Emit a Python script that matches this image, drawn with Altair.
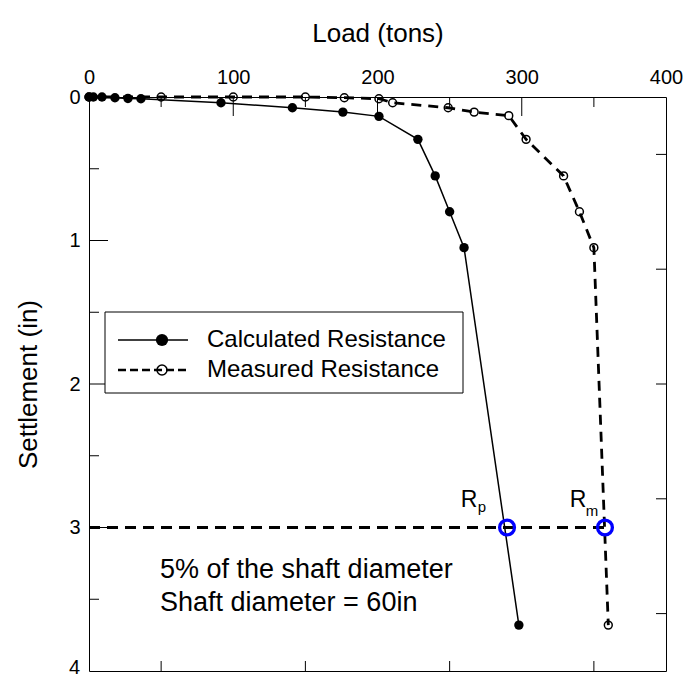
import altair as alt
import pandas as pd

# ---------------- data ----------------
calc_load = [0, 3, 9, 18, 27, 36, 91.5, 141, 176, 201, 228, 240, 250, 260, 298]
calc_settle = [0, 0, 0, 0.005, 0.01, 0.012, 0.04, 0.075, 0.105, 0.135, 0.295, 0.55, 0.80, 1.05, 3.68]

meas_load = [0, 50, 100, 150, 177, 201, 210.5, 249, 267, 291, 303, 329, 340, 350, 360]
meas_settle = [0, 0, 0, 0, 0.005, 0.012, 0.04, 0.075, 0.105, 0.13, 0.295, 0.55, 0.80, 1.05, 3.68]

criterion_settle = 3.0          # 5% of 60 in
rp_load = 289.8
rm_load = 357.7

x_labels = [0, 100, 200, 300, 400]
y_labels = [0, 1, 2, 3]
y_last_label = 4
top_major = [100, 200, 300]
top_minor = [50, 150, 250, 350]
bottom_ticks = [50, 150, 250, 350]
left_major = [1, 2, 3]
left_minor = [0.5, 1.5, 2.5, 3.5]
right_ticks = [0.4, 1.2, 2.0, 2.8, 3.6]

legend_labels = ["Calculated Resistance", "Measured Resistance"]
note_lines = ["5% of the shaft diameter", "Shaft diameter = 60in"]

# ---------------- chart ----------------
W, H = 577, 574
FONT = "Liberation Sans"
xs = alt.Scale(domain=[0, 400], nice=False, zero=False)
ys = alt.Scale(domain=[0, 4], reverse=True, nice=False, zero=False)

calc_df = pd.DataFrame({"load": calc_load, "settle": calc_settle})
meas_df = pd.DataFrame({"load": meas_load, "settle": meas_settle})
crit_df = pd.DataFrame({"load": [0, rm_load], "settle": [criterion_settle] * 2})
res_df = pd.DataFrame({"load": [rp_load, rm_load], "settle": [criterion_settle] * 2})

x_axis = alt.Axis(orient="top", values=x_labels, title="Load (tons)", tickSize=0,
                  domain=False, grid=False, labelFontSize=20, labelPadding=10,
                  labelFlush=False, labelOverlap=False, format="d",
                  titleFontSize=26, titleFontWeight="normal", titlePadding=21,
                  labelFont=FONT, titleFont=FONT, labelColor="black", titleColor="black")
y_axis = alt.Axis(orient="left", values=y_labels, title="Settlement (in)", tickSize=0,
                  domain=False, grid=False, labelFontSize=20, labelPadding=9,
                  labelFlush=False, labelOverlap=False, format="d",
                  titleFontSize=26, titleFontWeight="normal", titlePadding=27,
                  labelFont=FONT, titleFont=FONT, labelColor="black", titleColor="black")


def X(field="load"):
    return alt.X(f"{field}:Q", scale=xs, axis=x_axis, title="Load (tons)")


def Y(field="settle"):
    return alt.Y(f"{field}:Q", scale=ys, axis=y_axis, title="Settlement (in)")


meas_line = alt.Chart(meas_df).mark_line(color="black", strokeWidth=2.8, strokeDash=[10, 7]).encode(
    x=X(), y=Y())
meas_pts = alt.Chart(meas_df).mark_point(shape="circle", filled=False, color="black", size=62,
                                         strokeWidth=1.5, opacity=1).encode(x=X(), y=Y())
calc_line = alt.Chart(calc_df).mark_line(color="black", strokeWidth=1.5).encode(x=X(), y=Y())
calc_pts = alt.Chart(calc_df).mark_circle(color="black", size=88, opacity=1).encode(x=X(), y=Y())

crit_line = alt.Chart(crit_df).mark_line(color="black", strokeWidth=3, strokeDash=[11, 7]).encode(x=X(), y=Y())
res_circ = alt.Chart(res_df).mark_point(shape="circle", filled=False, color="#0000ff", size=220,
                                        strokeWidth=3.3, opacity=1).encode(x=X(), y=Y())

rp_df = res_df.iloc[[0]]
rm_df = res_df.iloc[[1]]
rp_R = alt.Chart(rp_df).mark_text(text="R", font=FONT, fontSize=23, dx=-38, dy=-28, color="black").encode(x=X(), y=Y())
rp_s = alt.Chart(rp_df).mark_text(text="p", font=FONT, fontSize=15, dx=-25, dy=-21, color="black").encode(x=X(), y=Y())
rm_R = alt.Chart(rm_df).mark_text(text="R", font=FONT, fontSize=23, dx=-27, dy=-28, color="black").encode(x=X(), y=Y())
rm_s = alt.Chart(rm_df).mark_text(text="m", font=FONT, fontSize=15, dx=-13, dy=-17, color="black").encode(x=X(), y=Y())

# last y label, nudged up so it stays inside the picture
last_lab = alt.Chart(pd.DataFrame({"settle": [y_last_label]})).mark_text(
    text=str(y_last_label), font=FONT, fontSize=20, align="right", baseline="middle",
    dy=-3, color="black").encode(x=alt.value(-9), y=Y())


# inward ticks
def hticks(vals, length, side):
    d = pd.DataFrame({"load": vals})
    if side == "top":
        enc = dict(x=X(), y=alt.value(0), y2=alt.value(length))
    else:
        enc = dict(x=X(), y=alt.value(H), y2=alt.value(H - length))
    return alt.Chart(d).mark_rule(color="black", strokeWidth=1).encode(**enc)


def vticks(vals, length, side):
    d = pd.DataFrame({"settle": vals})
    if side == "left":
        enc = dict(y=Y(), x=alt.value(0), x2=alt.value(length))
    else:
        enc = dict(y=Y(), x=alt.value(W), x2=alt.value(W - length))
    return alt.Chart(d).mark_rule(color="black", strokeWidth=1).encode(**enc)


ticks = [hticks(top_major, 19, "top"), hticks(top_minor, 10, "top"),
         hticks(bottom_ticks, 10, "bottom"), vticks(left_major, 19, "left"),
         vticks(left_minor, 10, "left"), vticks(right_ticks, 10, "right")]

# legend (drawn manually)
one = pd.DataFrame({"a": [0]})
leg_box = alt.Chart(one).mark_rect(fill="white", stroke="black", strokeWidth=1).encode(
    x=alt.value(16), x2=alt.value(374), y=alt.value(215), y2=alt.value(296))
leg_l1 = alt.Chart(one).mark_rule(color="black", strokeWidth=1.5).encode(
    x=alt.value(29), x2=alt.value(99), y=alt.value(243))
leg_p1 = alt.Chart(one).mark_circle(color="black", size=150, opacity=1).encode(
    x=alt.value(73), y=alt.value(243))
leg_l2 = alt.Chart(one).mark_rule(color="black", strokeWidth=2.7, strokeDash=[8, 4]).encode(
    x=alt.value(29), x2=alt.value(99), y=alt.value(273))
leg_p2 = alt.Chart(one).mark_point(shape="circle", filled=False, color="black", size=100,
                                   strokeWidth=1.5, opacity=1).encode(x=alt.value(73), y=alt.value(273))
leg_t1 = alt.Chart(one).mark_text(align="left", baseline="middle", font=FONT, fontSize=24,
                                  color="black").encode(x=alt.value(118), y=alt.value(243),
                                                        text=alt.value(legend_labels[0]))
leg_t2 = alt.Chart(one).mark_text(align="left", baseline="middle", font=FONT, fontSize=24,
                                  color="black").encode(x=alt.value(118), y=alt.value(273),
                                                        text=alt.value(legend_labels[1]))

note1 = alt.Chart(one).mark_text(align="left", baseline="middle", font=FONT, fontSize=27,
                                 color="black").encode(x=alt.value(71), y=alt.value(473),
                                                       text=alt.value(note_lines[0]))
note2 = alt.Chart(one).mark_text(align="left", baseline="middle", font=FONT, fontSize=27,
                                 color="black").encode(x=alt.value(71), y=alt.value(506),
                                                       text=alt.value(note_lines[1]))

chart = alt.layer(
    meas_line, *ticks, crit_line, meas_pts, calc_line, calc_pts, res_circ,
    rp_R, rp_s, rm_R, rm_s, last_lab,
    leg_box, leg_l1, leg_p1, leg_l2, leg_p2, leg_t1, leg_t2, note1, note2,
).properties(
    width=W, height=H,
    autosize=alt.AutoSizeParams(type="none"),
    padding={"left": 89, "top": 97, "right": 18, "bottom": 8},
    background="white",
).configure_view(stroke="black", strokeWidth=1)

chart.save("out.html", embed_options={"renderer": "svg", "actions": False})
